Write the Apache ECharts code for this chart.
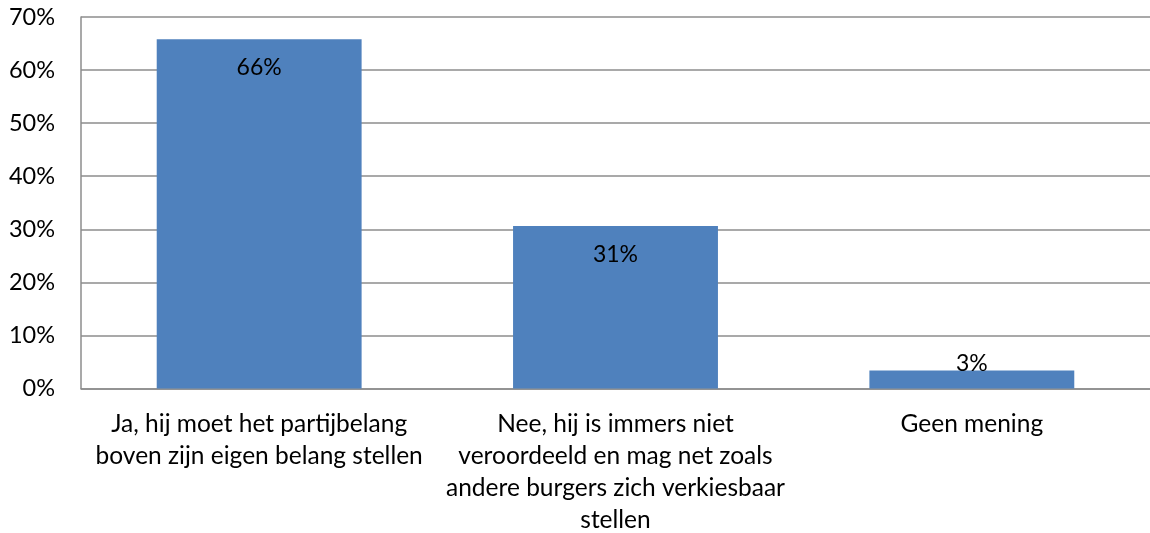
<!DOCTYPE html>
<html>
<head>
<meta charset="utf-8">
<script src="https://cdn.jsdelivr.net/npm/echarts@6/dist/echarts.min.js"></script>
<style>
  html, body { margin: 0; padding: 0; background: #fff; }
  #chart { width: 1150px; height: 533px; }
</style>
</head>
<body>
<div id="chart"></div>
<script>
// answers (category labels wrapped as in the original)
const categories = [
  'Ja, hij moet het partijbelang\nboven zijn eigen belang stellen',
  'Nee, hij is immers niet\nveroordeeld en mag net zoals\nandere burgers zich verkiesbaar\nstellen',
  'Geen mening'
];
// share of respondents, percent
const values = [65.8, 30.6, 3.4];
const valueLabels = ['66%', '31%', '3%'];
const yTicks = [0, 10, 20, 30, 40, 50, 60, 70];

const font = 'Lato, "Open Sans", sans-serif';
const gridColor = '#8c8c8c';

const chart = echarts.init(document.getElementById('chart'));

const option = {
  animation: false,
  grid: { left: 81, right: 0, top: 17, bottom: 144.5, outerBoundsMode: 'none' },
  xAxis: {
    type: 'category',
    data: categories,
    axisLine: { lineStyle: { color: gridColor, width: 1.5 } },
    axisTick: { show: false },
    axisLabel: {
      color: '#000',
      fontFamily: font,
      fontSize: 24.5,
      lineHeight: 32,
      margin: 20,
      interval: 0
    }
  },
  yAxis: {
    type: 'value',
    min: yTicks[0],
    max: yTicks[yTicks.length - 1],
    interval: 10,
    axisLine: { show: true, lineStyle: { color: gridColor, width: 1.5 } },
    axisTick: { show: false },
    splitLine: { lineStyle: { color: gridColor, width: 1.5 } },
    axisLabel: {
      color: '#000',
      fontFamily: font,
      fontSize: 23.5,
      margin: 26,
      formatter: v => v + '%'
    }
  },
  series: [{
    type: 'bar',
    barWidth: '57.5%',
    itemStyle: { color: '#4f81bd' },
    data: values.map((v, i) => {
      const item = { value: v };
      if (v < 10) {
        item.label = { position: 'top', distance: -5 };
      }
      return item;
    }),
    label: {
      show: true,
      position: 'insideTop',
      distance: 17,
      color: '#000',
      fontFamily: font,
      fontSize: 23,
      formatter: p => valueLabels[p.dataIndex]
    }
  }]
};

chart.setOption(option);
</script>
</body>
</html>
